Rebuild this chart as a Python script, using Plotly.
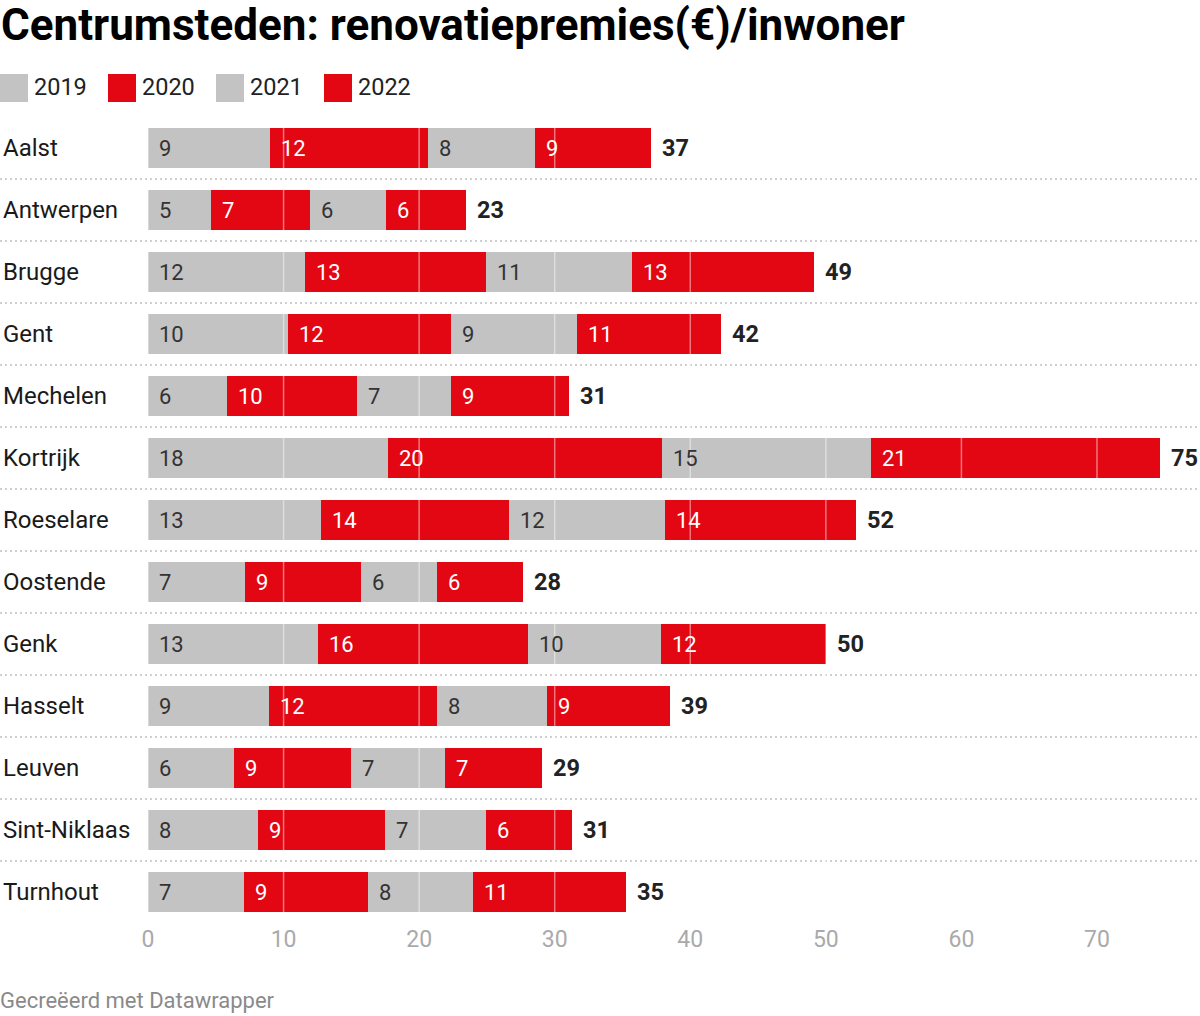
import plotly.graph_objects as go

# ---- data ----
cities = ["Aalst", "Antwerpen", "Brugge", "Gent", "Mechelen", "Kortrijk", "Roeselare",
          "Oostende", "Genk", "Hasselt", "Leuven", "Sint-Niklaas", "Turnhout"]
years = ["2019", "2020", "2021", "2022"]
v2019 = [8.97, 4.68, 11.55, 10.30, 5.86, 17.67, 12.77, 7.17, 12.52, 8.95, 6.34, 8.12, 7.05]
v2020 = [11.69, 7.25, 13.40, 12.07, 9.57, 20.22, 13.88, 8.55, 15.52, 12.40, 8.61, 9.36, 9.18]
v2021 = [7.90, 5.64, 10.74, 9.27, 6.94, 15.45, 11.52, 5.63, 9.80, 8.09, 6.98, 7.42, 7.71]
v2022 = [8.55, 5.92, 13.40, 10.63, 8.68, 21.31, 14.03, 6.31, 12.20, 9.10, 7.13, 6.39, 11.29]
tick_vals = [0, 10, 20, 30, 40, 50, 60, 70]

series = [v2019, v2020, v2021, v2022]
GRAY = "#c3c3c3"
RED = "#e30613"
colors = [GRAY, RED, GRAY, RED]
text_colors = ["#333333", "#ffffff", "#333333", "#ffffff"]
FONT = "Roboto"

W, H = 1200, 1016
L, R, T, B = 148, 0, 117, 93
PW, PH = W - L - R, H - T - B


def px(x):
    return (x - L) / PW


def py(y):
    return (T + PH - y) / PH


fig = go.Figure()
for yr, vals, col in zip(years, series, colors):
    fig.add_trace(go.Bar(
        name=yr, y=cities, x=vals, orientation="h",
        marker=dict(color=col, line=dict(width=0)),
        showlegend=False, hoverinfo="x+y+name",
    ))

annotations = []
shapes = []

# segment labels
for i, city in enumerate(cities):
    base = 0.0
    for k, vals in enumerate(series):
        annotations.append(dict(
            x=base, y=city, xref="x", yref="y", xanchor="left", yanchor="middle",
            xshift=9, text=str(round(vals[i])), showarrow=False,
            font=dict(family=FONT, size=22, color=text_colors[k]),
        ))
        base += vals[i]
    # total label
    annotations.append(dict(
        x=base, y=city, xref="x", yref="y", xanchor="left", yanchor="middle",
        xshift=9, text="<b>%d</b>" % round(base), showarrow=False,
        font=dict(family=FONT, size=23.5, color="#222222"),
    ))
    # category label
    annotations.append(dict(
        x=px(1), y=city, xref="paper", yref="y", xanchor="left", yanchor="middle",
        text=city, showarrow=False,
        font=dict(family=FONT, size=24, color="#1a1a1a"),
    ))

# dotted row separators
for i in range(len(cities) - 1):
    shapes.append(dict(
        type="line", xref="paper", yref="y", x0=px(0), x1=px(W), y0=i + 0.5, y1=i + 0.5,
        line=dict(color="#cfcfcf", width=2, dash="2px,3px"), layer="below",
    ))

# gridlines drawn over the bars
for t in tick_vals:
    shapes.append(dict(
        type="line", xref="x", yref="paper", x0=t, x1=t, y0=0, y1=1,
        line=dict(color="rgba(255,255,255,0.45)", width=1.5), layer="above",
    ))

# title
annotations.append(dict(
    x=px(-1), y=py(25), xref="paper", yref="paper", xanchor="left", yanchor="middle",
    text="<b>Centrumsteden: renovatiepremies(€)/inwoner</b>", showarrow=False,
    font=dict(family=FONT, size=44, color="#000000"),
))

# custom legend
leg_x = [0, 108, 216, 324]
for yr, col, lx in zip(years, colors, leg_x):
    shapes.append(dict(
        type="rect", xref="paper", yref="paper",
        x0=px(lx), x1=px(lx + 28), y0=py(102), y1=py(74),
        fillcolor=col, line=dict(width=0), layer="above",
    ))
    annotations.append(dict(
        x=px(lx + 32), y=py(87), xref="paper", yref="paper", xanchor="left", yanchor="middle",
        text=yr, showarrow=False, font=dict(family=FONT, size=23.5, color="#222222"),
    ))

# footer
annotations.append(dict(
    x=px(-2), y=py(1000), xref="paper", yref="paper", xanchor="left", yanchor="middle",
    text="Gecreëerd met Datawrapper", showarrow=False,
    font=dict(family=FONT, size=22, color="#8a8a8a"),
))

fig.update_layout(
    width=W, height=H,
    margin=dict(l=L, r=R, t=T, b=B, pad=0),
    barmode="stack", bargap=0.355,
    paper_bgcolor="white", plot_bgcolor="white",
    font=dict(family=FONT),
    showlegend=False,
    xaxis=dict(range=[0, PW / 13.557], tickvals=tick_vals, showgrid=False, zeroline=False,
               showline=False, ticks="", tickfont=dict(family=FONT, size=23, color="#aaaaaa"),
               fixedrange=True),
    yaxis=dict(range=[len(cities) - 0.5, -0.5], showticklabels=False, showgrid=False,
               zeroline=False, showline=False, ticks="", fixedrange=True),
    annotations=annotations, shapes=shapes,
)

fig.write_html("out.html", config={"displayModeBar": False},
               post_script="document.body.style.margin='0';document.body.style.overflow='hidden';")
